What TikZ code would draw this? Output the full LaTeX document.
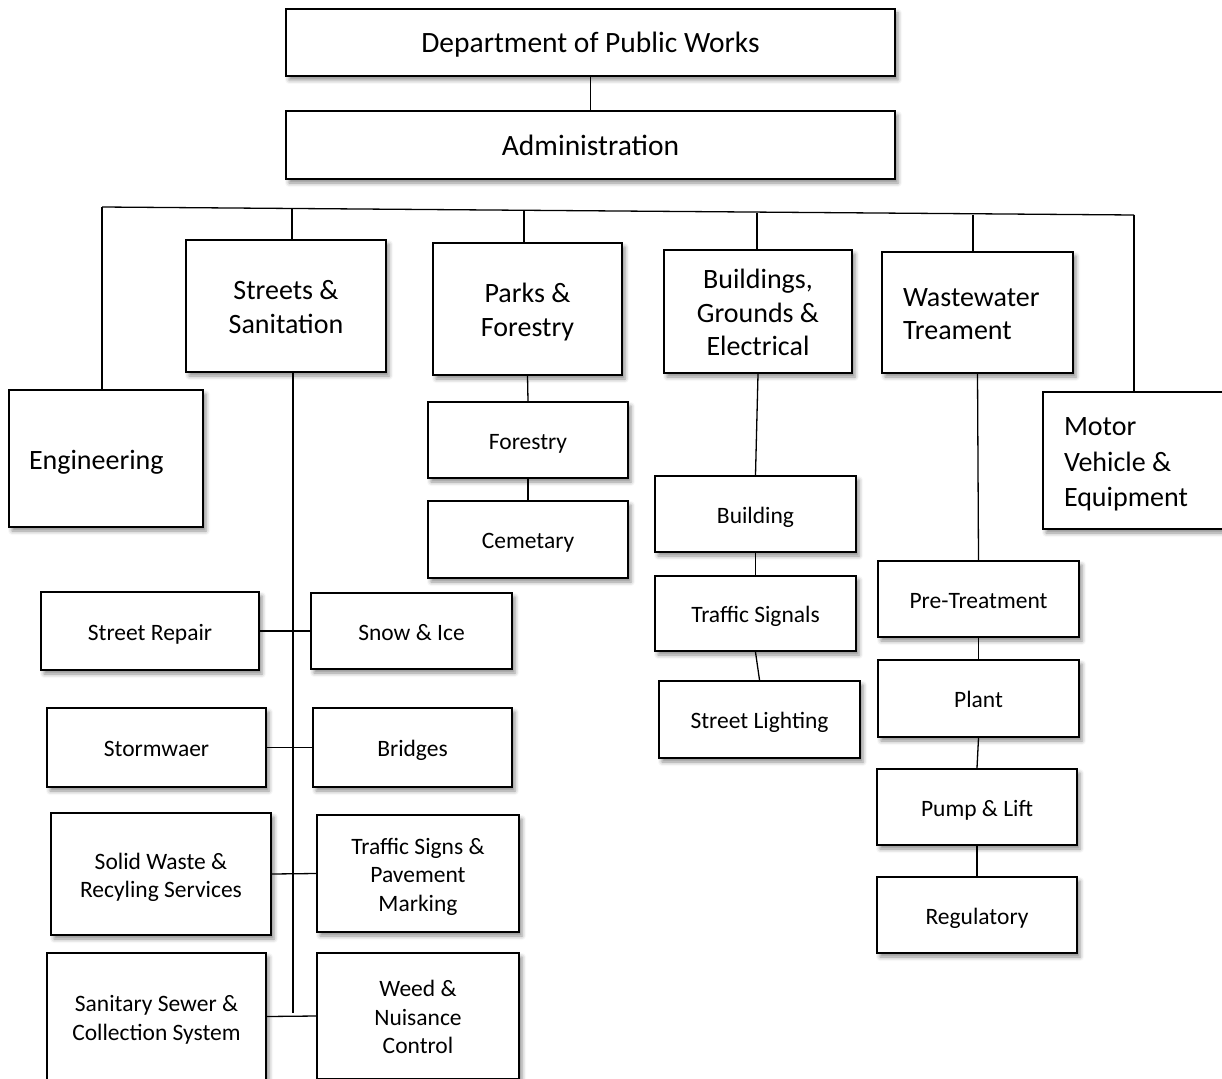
\documentclass[tikz,border=0pt]{standalone}
\usepackage{fontspec}
\setmainfont{Carlito}
\usetikzlibrary{shadows.blur}

\begin{document}
\begin{tikzpicture}[
  x=1pt,y=-1pt,
  box/.style={rectangle,draw=black,line width=2.2pt,fill=white,inner sep=0pt,text width=180pt,align=flush center,
    blur shadow={shadow xshift=3pt,shadow yshift=-4pt,shadow blur radius=4pt,shadow opacity=45}},
  unit/.style={box,font=\fontsize{28}{33.5}\selectfont,
    execute at begin node={\rule{0pt}{27.5pt}},execute at end node={\rule[-6.5pt]{0pt}{6.5pt}}},
  head/.style={unit,font=\fontsize{29.5}{35}\selectfont,text width=560pt,minimum width=609pt},
  sub/.style={box,font=\fontsize{23.5}{28.5}\selectfont,
    execute at begin node={\rule{0pt}{24.5pt}},execute at end node={\rule[-6pt]{0pt}{6pt}}},
  link/.style={draw=black,line width=1.3pt}
]
\useasboundingbox (0,0) rectangle (1222,1078);
% Top of the chart, then the six divisions hanging from one bar.
\node[head,minimum height=67pt] (dpw) at (590.5,42.5) {Department of Public Works};
\node[head,minimum height=68pt] (admin) at (590.5,145) {Administration};
\node[unit,inner xsep=20pt,text width=154pt,align=flush left,minimum height=137pt] (eng) at (106,458.5) {Engineering};
\node[unit,minimum width=200pt,minimum height=132pt] (streets) at (286,306) {Streets \&\\Sanitation};
\node[unit,minimum width=189pt,minimum height=132pt] (parks) at (527.5,309) {Parks \&\\Forestry};
\node[unit,minimum width=188pt,minimum height=123pt] (bge) at (758,311.5) {Buildings,\\Grounds \&\\Electrical};
\node[unit,inner xsep=21pt,text width=149pt,align=flush left,minimum height=121pt] (wwt) at (977.5,312.5) {Wastewater\\Treament};
\node[unit,font=\fontsize{28}{35.5}\selectfont,inner xsep=21pt,text width=150pt,align=flush left,minimum height=137pt] (motor) at (1139,460.5) {Motor\\Vehicle \&\\Equipment};
\node[sub,minimum width=200pt,minimum height=76pt] (forestry) at (528,440) {Forestry};
\node[sub,minimum width=200pt,minimum height=77pt] (cemetary) at (528,539.5) {Cemetary};
\node[sub,minimum width=201pt,minimum height=76pt] (building) at (755.5,514) {Building};
\node[sub,minimum width=201pt,minimum height=75pt] (signals) at (755.5,613.5) {Traffic Signals};
\node[sub,minimum width=201pt,minimum height=77pt] (lighting) at (759.5,719.5) {Street Lighting};
\node[sub,minimum width=201pt,minimum height=76pt] (pretreat) at (978.5,599) {Pre-Treatment};
\node[sub,minimum width=201pt,minimum height=77pt] (plant) at (978.5,698.5) {Plant};
\node[sub,minimum width=200pt,minimum height=76pt] (pump) at (977,807) {Pump \& Lift};
\node[sub,minimum width=200pt,minimum height=76pt] (regulatory) at (977,915) {Regulatory};
\node[sub,minimum width=218pt,minimum height=78pt] (repair) at (150,631) {Street Repair};
\node[sub,minimum width=201pt,minimum height=76pt] (snow) at (411.5,631) {Snow \& Ice};
\node[sub,minimum width=219pt,minimum height=79pt] (storm) at (156.5,747.5) {Stormwaer};
\node[sub,minimum width=199pt,minimum height=79pt] (bridges) at (412.5,747.5) {Bridges};
\node[sub,minimum width=220pt,minimum height=122pt] (solid) at (161,874) {Solid Waste \&\\Recyling Services};
\node[sub,minimum width=202pt,minimum height=117pt] (signs) at (418,873.5) {Traffic Signs \&\\Pavement\\Marking};
\node[sub,minimum width=219pt,minimum height=127pt] (sewer) at (156.5,1016.5) {Sanitary Sewer \&\\Collection System};
\node[sub,minimum width=202pt,minimum height=126pt] (weed) at (418,1016) {Weed \&\\Nuisance\\Control};
\coordinate (barL) at (102,207);
\coordinate (barR) at (1134,215);
\coordinate (dropStreets) at (292,208.5);
\coordinate (dropParks) at (524,210.5);
\coordinate (dropBge) at (757,212.5);
\coordinate (dropWwt) at (973,214.5);
\coordinate (spineEnd) at (293,1013);
\draw[link] (dpw.south) -- (admin.north);
\draw[link] (barL) -- (barR);
\draw[link] (barL) -- (barL |- eng.north);
\draw[link] (barR) -- (barR |- motor.north);
\draw[link] (dropStreets) -- (dropStreets |- streets.north);
\draw[link] (dropParks) -- (dropParks |- parks.north);
\draw[link] (dropBge) -- (dropBge |- bge.north);
\draw[link] (dropWwt) -- (dropWwt |- wwt.north);
\draw[link] (spineEnd |- streets.south) -- (spineEnd);
\draw[link] (repair.east) -- (snow.west);
\draw[link] (storm.east) -- (bridges.west);
\draw[link] (solid.east) -- (signs.west);
\draw[link] (sewer.east) -- (weed.west);
\draw[link] (parks.south) -- (forestry.north);
\draw[link] (forestry.south) -- (cemetary.north);
\draw[link] (bge.south) -- (building.north);
\draw[link] (building.south) -- (signals.north);
\draw[link] (signals.south) -- (lighting.north);
\draw[link] (wwt.south) -- (pretreat.north);
\draw[link] (pretreat.south) -- (plant.north);
\draw[link] (plant.south) -- (pump.north);
\draw[link] (pump.south) -- (regulatory.north);
\end{tikzpicture}
\end{document}
